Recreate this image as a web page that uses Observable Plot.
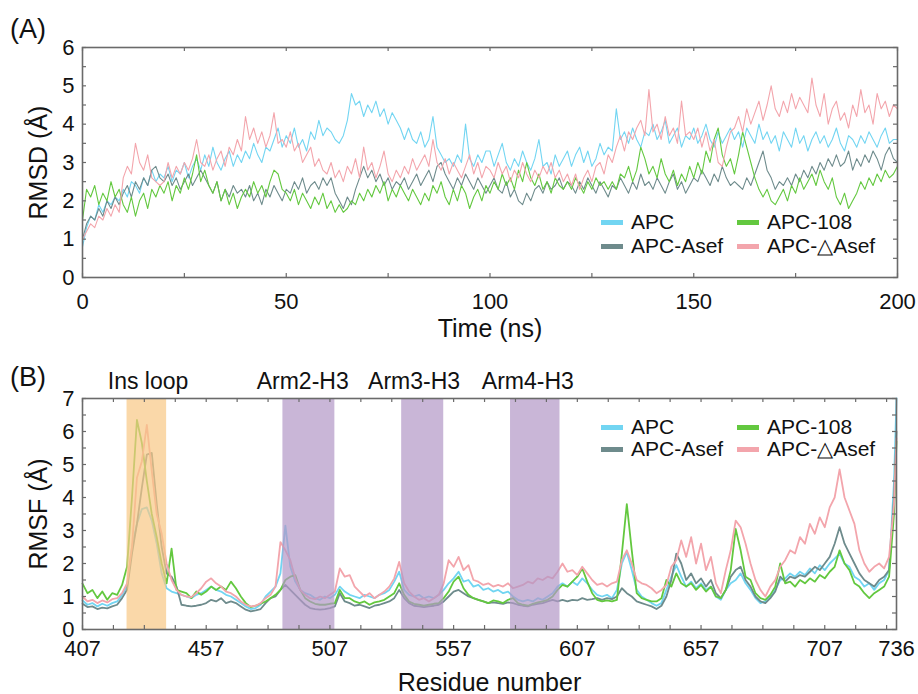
<!DOCTYPE html>
<html><head><meta charset="utf-8">
<script src="https://cdn.jsdelivr.net/npm/d3@7"></script>
<script src="https://cdn.jsdelivr.net/npm/@observablehq/plot@0.6"></script>
<style>
body{margin:0;background:#fff;font-family:"Liberation Sans",Arial,sans-serif;}
#wrap{position:relative;width:918px;height:694px;overflow:hidden;background:#fff;}
.panel{position:absolute;left:0;}
.plabel{position:absolute;left:10px;font-size:27px;line-height:27px;color:#111;}
.leg{position:absolute;font-size:21px;line-height:22px;height:22px;display:flex;align-items:center;white-space:nowrap;color:#111;}
.sw{display:inline-block;width:22px;height:5px;margin-right:8px;}
</style></head><body><div id="wrap"></div>
<script>
// ---------- series ----------
const seriesNames = ["APC", "APC-Asef", "APC-108", "APC-△Asef"];
const seriesColors = ["#72d5f2", "#6e8b8c", "#63c83f", "#f3a5ac"];

// ---------- (A) RMSD, one value per ns, 0..200 ns ----------
const rmsdTime = d3.range(0, 201);
const rmsdAPC = [
0.8,1.3,1.6,1.5,1.9,1.7,2.0,1.9,2.1,2.0,
2.3,2.1,2.5,2.4,2.2,2.6,2.4,2.8,2.5,2.7,
2.6,2.9,2.5,2.8,2.7,3.0,2.6,2.9,3.1,2.8,
3.2,2.9,3.4,3.0,2.8,3.1,3.3,2.9,3.2,3.0,
3.3,3.1,3.5,3.2,3.0,3.4,3.3,3.6,3.9,3.4,
3.7,3.5,3.9,3.4,3.6,3.3,3.8,3.6,4.1,3.7,
3.9,3.8,3.6,3.5,3.7,4.1,4.8,4.5,4.6,4.2,
4.5,4.3,4.6,4.2,4.4,4.0,4.3,4.1,3.9,3.6,
3.9,3.6,3.5,3.8,3.4,3.6,4.2,3.4,3.2,3.0,
3.1,2.9,3.2,3.0,4.0,3.1,2.9,3.2,3.0,3.3,
3.3,2.9,3.2,3.5,3.0,2.8,3.1,2.9,3.3,3.0,
2.8,3.1,3.6,2.9,3.0,2.7,3.2,2.9,3.1,3.3,
2.9,3.2,3.4,3.0,3.3,2.9,3.1,3.5,3.2,3.4,
3.3,4.4,3.6,3.8,3.5,3.9,3.6,3.4,3.8,3.7,
4.0,3.6,3.8,4.1,3.5,3.7,3.9,3.4,3.7,3.6,
3.9,3.5,3.7,4.0,3.6,3.4,3.8,3.5,3.7,3.9,
3.6,3.8,3.4,3.9,3.7,3.5,4.0,3.6,3.8,3.5,
3.7,3.3,3.8,3.6,3.4,3.9,3.5,3.7,3.3,3.6,
3.8,3.5,3.7,3.4,3.6,3.9,3.5,3.3,3.7,3.6,
3.4,3.7,3.5,3.8,3.6,3.4,3.7,3.9,3.5,3.6,
3.6];
const rmsdAsef = [
1.0,1.4,1.6,1.5,1.8,1.6,2.0,1.8,2.1,1.9,
2.2,2.4,2.1,2.5,2.3,2.6,2.4,2.8,2.9,2.6,
2.5,2.7,2.4,2.6,2.3,2.5,2.7,2.4,2.6,2.8,
2.6,2.4,2.2,2.5,2.0,2.3,2.1,2.4,2.2,2.3,
2.1,2.4,2.0,2.2,1.9,2.3,2.1,2.4,2.2,2.0,
2.3,2.2,2.5,2.3,2.6,2.2,2.4,2.5,2.3,2.6,
2.4,2.6,2.2,2.0,1.8,2.1,1.9,2.3,2.6,2.9,
2.6,2.8,2.5,2.7,2.4,2.6,2.3,2.5,2.4,2.6,
2.3,2.5,2.7,2.4,2.6,2.8,2.5,2.9,3.0,2.7,
2.5,2.3,2.6,2.4,2.7,2.5,2.3,2.6,2.4,2.2,
2.4,2.6,2.3,2.2,2.5,2.1,2.3,2.0,1.9,2.2,
2.0,2.3,2.4,2.2,2.5,2.3,2.4,2.6,2.3,2.5,
2.4,2.2,2.5,2.3,2.6,2.4,2.2,2.5,2.3,2.1,
2.4,2.3,2.6,2.4,2.2,2.5,2.3,2.7,2.4,2.5,
2.3,2.6,2.4,2.2,2.5,2.7,2.3,2.5,2.2,2.4,
2.6,2.5,2.8,2.6,2.4,2.7,2.5,2.9,2.6,2.4,
2.5,2.4,2.3,2.6,2.4,2.7,3.0,3.3,2.8,2.6,
2.3,2.5,2.4,2.6,2.4,2.7,2.5,2.8,2.6,2.9,
2.7,3.0,2.8,3.1,2.9,3.2,2.9,3.0,3.3,2.8,
3.1,2.9,3.2,3.0,3.3,3.1,2.8,3.2,3.4,3.1,
3.0];
const rmsd108 = [
1.5,2.3,2.1,2.4,1.9,2.2,2.0,2.5,2.1,2.3,
1.9,1.7,2.1,1.6,2.0,2.2,1.8,2.3,2.1,2.4,
2.2,2.5,2.0,2.4,2.2,2.6,2.3,2.7,3.2,2.5,
2.8,2.4,2.2,2.5,2.0,2.3,1.9,2.2,1.8,2.1,
2.3,2.1,2.5,2.2,2.4,2.1,2.5,2.8,2.7,2.3,
2.2,2.0,2.3,1.9,2.2,2.0,1.8,2.1,1.9,2.2,
1.8,2.0,1.7,1.9,1.7,1.8,2.0,1.9,2.2,2.0,
2.3,2.1,2.4,2.2,2.5,2.0,2.3,2.1,2.4,2.2,
2.0,2.3,2.1,1.9,2.2,2.0,2.4,2.2,2.5,2.1,
1.9,2.3,2.0,2.4,2.2,1.8,2.1,2.3,2.0,2.4,
2.2,2.5,2.3,2.7,2.4,2.6,2.3,2.8,2.5,3.0,
2.6,2.4,2.7,2.3,2.5,2.2,2.6,2.4,2.3,2.5,
2.3,2.6,2.4,2.2,2.5,2.3,2.6,2.4,2.5,2.3,
2.5,2.3,2.7,2.6,2.9,2.5,2.8,3.4,3.1,2.7,
2.9,2.6,3.1,2.7,2.5,2.8,2.4,2.7,2.5,2.9,
2.6,3.0,2.7,3.3,3.0,3.6,3.9,3.2,2.9,3.1,
2.7,3.2,3.8,3.4,3.0,2.6,2.3,2.1,2.3,2.0,
1.9,2.1,2.3,2.0,2.4,2.2,2.6,2.3,2.5,2.7,
2.4,2.8,2.5,2.3,2.6,2.1,1.9,2.2,1.8,2.0,
2.2,2.5,2.3,2.6,2.4,2.7,2.5,2.8,2.6,2.7,
2.9];
const rmsdDAsef = [
1.0,1.2,1.4,1.3,1.6,1.5,1.8,1.6,1.9,1.7,
2.6,2.9,2.7,3.5,3.0,2.8,3.2,2.6,2.5,2.4,
2.5,3.0,2.6,2.9,2.7,3.0,2.8,3.1,3.6,3.0,
2.9,3.2,2.8,3.1,3.3,2.9,3.4,3.2,3.6,3.3,
4.2,3.6,3.9,3.5,3.8,3.4,3.7,4.3,3.5,3.6,
3.4,3.8,3.3,3.5,3.0,3.2,3.4,2.9,3.1,2.8,
2.7,3.0,2.6,2.8,2.5,2.9,2.7,3.1,2.6,3.4,
2.8,3.0,2.6,2.9,3.3,2.7,2.5,2.8,2.6,2.9,
2.7,3.1,2.8,3.0,3.2,2.9,3.6,3.0,2.8,3.1,
2.7,3.0,2.8,2.6,2.9,3.2,2.7,3.0,2.6,2.9,
2.8,2.6,3.0,2.7,2.9,2.5,2.8,2.6,3.0,2.7,
2.5,2.8,2.6,2.9,2.7,3.0,2.6,2.8,2.5,2.7,
2.4,2.7,2.3,2.6,2.8,2.5,2.9,3.0,2.7,3.2,
3.0,3.4,3.7,3.3,3.8,3.6,3.9,4.1,3.7,4.9,
3.8,4.0,3.6,4.2,3.7,3.9,3.5,4.6,3.7,3.8,
3.6,3.9,3.4,3.8,3.3,3.6,3.0,2.9,3.4,3.8,
3.9,4.2,3.8,4.4,4.0,4.3,4.6,4.1,4.5,5.0,
4.4,4.2,4.6,4.3,4.8,4.4,4.7,4.5,4.3,5.2,
4.5,4.2,4.8,4.0,4.4,4.6,4.1,4.3,3.9,4.5,
4.2,4.9,4.3,4.5,4.0,4.8,4.4,4.6,4.2,4.5,
4.4];
const rmsdXLabels = [0, 50, 100, 150, 200];
const rmsdXTicks = [0, 25, 50, 75, 100, 125, 150, 175, 200];
const rmsdYLabels = [0, 1, 2, 3, 4, 5, 6];
const rmsdYTicks = [0, 0.5, 1, 1.5, 2, 2.5, 3, 3.5, 4, 4.5, 5, 5.5, 6];
const rmsdXTitle = "Time (ns)";
const rmsdYTitle = "RMSD (Å)";

// ---------- (B) RMSF, every second residue 407..735, plus 736 ----------
const rmsfResidue = d3.range(407, 736, 2).concat([736]);
const rmsfAPC = [
0.88,0.75,0.80,0.70,0.78,0.72,0.80,0.85,1.05,1.30,
2.50,3.20,3.65,3.70,3.30,2.60,1.70,1.25,1.15,1.10,
1.05,1.00,0.95,1.05,1.10,1.20,1.30,1.20,1.15,1.05,
1.00,0.90,0.80,0.70,0.62,0.65,0.75,1.00,1.15,1.30,
1.70,3.15,1.90,1.45,1.20,1.10,1.05,0.95,0.90,1.00,
0.95,1.05,1.30,1.15,1.05,1.00,0.95,1.05,1.00,0.95,
1.05,1.10,1.20,1.45,1.75,1.20,1.05,1.00,1.05,0.95,
1.00,0.95,1.05,1.20,1.40,1.55,1.75,1.45,1.50,1.30,
1.35,1.20,1.25,1.15,1.20,1.10,1.15,1.00,0.90,0.85,
0.90,0.85,0.95,0.90,1.00,1.10,1.30,1.40,1.30,1.45,
1.35,1.55,1.40,1.20,1.05,1.00,1.05,0.95,1.20,2.00,
2.35,1.80,1.20,1.00,0.90,0.80,0.72,0.80,1.20,1.60,
1.95,1.60,1.30,1.45,1.25,1.40,1.20,1.30,1.00,0.90,
1.20,1.40,1.50,1.70,1.40,1.20,0.95,0.80,0.85,1.00,
1.20,1.50,1.55,1.70,1.60,1.75,1.65,1.85,1.70,1.95,
1.80,2.00,2.15,2.30,2.00,1.90,1.60,1.50,1.30,1.40,
1.20,1.40,1.50,1.80,4.50,
7.00];
const rmsfAsef = [
0.78,0.68,0.70,0.62,0.66,0.64,0.70,0.75,0.95,1.20,
2.30,3.20,4.30,5.30,5.35,3.80,2.50,1.70,1.60,1.30,
0.75,0.72,0.70,0.72,0.75,0.80,0.90,0.85,0.95,0.80,
0.85,0.80,0.70,0.60,0.55,0.58,0.62,0.80,0.95,1.00,
1.20,1.35,1.20,1.05,0.90,0.75,0.65,0.62,0.60,0.62,
0.65,0.70,1.10,0.85,0.80,0.72,0.75,0.70,0.65,0.72,
0.75,0.80,0.85,0.95,1.20,0.95,0.80,0.72,0.70,0.68,
0.70,0.72,0.75,0.85,1.00,1.15,1.20,1.10,1.00,0.95,
0.90,0.85,0.80,0.82,0.80,0.78,0.82,0.80,0.75,0.72,
0.70,0.75,0.78,0.80,0.85,0.90,0.85,0.90,0.85,0.90,
0.88,0.95,0.90,0.92,0.95,0.90,0.95,0.92,1.00,1.25,
1.10,1.00,0.85,0.80,0.75,0.70,0.62,0.72,1.00,1.50,
2.30,2.00,1.50,1.70,1.40,1.55,1.30,1.50,1.10,0.95,
1.20,1.60,1.80,1.90,1.50,1.30,1.00,0.85,0.80,0.95,
1.15,1.60,1.45,1.60,1.55,1.65,1.60,1.75,1.90,1.80,
2.00,2.20,2.60,3.10,2.60,2.30,2.00,1.70,1.50,1.40,
1.30,1.50,1.60,1.80,4.00,
6.00];
const rmsf108 = [
1.39,1.10,1.20,0.95,1.15,0.90,1.10,1.05,1.35,1.90,
4.00,6.35,5.65,4.50,3.50,2.80,2.00,1.40,2.45,1.20,
1.15,1.10,0.95,1.15,1.05,1.15,1.30,1.20,1.30,1.20,
1.45,1.25,1.00,0.80,0.68,0.72,0.78,0.85,0.95,1.05,
1.20,1.50,1.60,1.65,1.20,0.95,0.85,0.78,0.75,0.75,
0.78,0.80,1.20,0.95,0.95,0.85,0.80,0.85,0.75,0.82,
0.85,0.90,1.00,1.10,1.40,1.05,0.85,0.78,0.75,0.72,
0.75,0.78,0.80,0.95,1.15,1.45,1.60,1.25,1.05,0.95,
0.90,0.85,0.80,0.88,0.85,0.80,0.90,0.95,0.80,0.75,
0.72,0.78,0.82,0.85,0.90,1.00,1.20,1.35,1.30,1.45,
1.60,1.85,1.45,1.10,0.90,0.85,0.88,0.85,0.90,2.30,
3.80,2.40,1.10,0.95,0.90,0.85,0.85,0.95,1.50,1.30,
1.70,1.40,1.30,1.40,1.20,1.35,1.15,1.30,1.00,0.95,
1.20,1.80,3.05,2.40,1.60,1.50,1.10,0.95,0.90,1.05,
1.30,2.00,1.40,1.45,1.30,1.50,1.40,1.55,1.45,1.65,
1.55,1.75,1.90,2.40,2.00,1.80,1.40,1.30,1.10,0.95,
1.10,1.20,1.30,1.60,3.50,
5.70];
const rmsfDAsef = [
1.00,0.85,0.90,0.80,0.88,0.82,0.92,0.95,1.10,1.40,
2.50,4.60,5.10,6.20,4.80,3.50,2.90,2.00,1.50,1.20,
1.05,1.00,0.98,1.10,1.25,1.45,1.55,1.40,1.30,1.15,
1.10,1.00,0.85,0.75,0.70,0.72,0.80,0.95,1.05,1.30,
2.65,2.40,2.10,1.55,1.20,1.05,0.95,0.92,1.00,0.95,
1.05,1.15,1.85,1.60,1.65,1.30,1.15,1.00,1.10,0.95,
1.05,1.15,1.30,1.55,2.05,1.40,1.15,1.00,0.90,0.95,
0.85,0.95,1.05,1.40,2.10,1.90,2.20,1.80,1.95,1.50,
1.45,1.35,1.40,1.30,1.35,1.30,1.40,1.25,1.30,1.35,
1.45,1.40,1.55,1.50,1.60,1.55,1.75,2.00,1.75,1.80,
1.65,1.90,1.70,1.50,1.35,1.40,1.30,1.40,1.45,2.10,
2.40,2.00,1.50,1.40,1.35,1.25,1.10,1.20,1.35,1.90,
2.10,2.70,2.20,2.80,2.00,2.60,1.80,2.20,1.40,1.10,
1.80,2.40,3.30,3.10,2.60,2.00,1.50,1.20,1.00,1.30,
1.50,1.90,2.10,2.40,2.30,2.80,2.60,3.20,2.90,3.40,
3.10,3.70,4.00,4.85,4.00,3.60,3.20,2.40,2.00,1.75,
1.90,2.00,1.85,2.20,3.80,
5.80];
const rmsfXLabels = [407, 457, 507, 557, 607, 657, 707, 736];
const rmsfXTicks = [407,419.5,432,444.5,457,469.5,482,494.5,507,519.5,532,544.5,557,569.5,582,594.5,607,619.5,632,644.5,657,669.5,682,694.5,707,719.5,732];
const rmsfYLabels = [0, 1, 2, 3, 4, 5, 6, 7];
const rmsfYTicks = [0,0.5,1,1.5,2,2.5,3,3.5,4,4.5,5,5.5,6,6.5,7];
const rmsfXTitle = "Residue number";
const rmsfYTitle = "RMSF (Å)";

// highlighted regions
const regionNames = ["Ins loop", "Arm2-H3", "Arm3-H3", "Arm4-H3"];
const regionStart = [425, 488, 536, 580];
const regionEnd = [441, 509, 553, 600];
const regionLabelX = [433.5, 496, 541, 587];
const regionFill = ["#f8c884", "#b297c6", "#b297c6", "#b297c6"];

// ---------- drawing ----------
const FONT = '"Liberation Sans", Arial, Helvetica, sans-serif';
const FRAME = "#6a6a6a";
const wrap = document.getElementById("wrap");
const rmsd = [rmsdAPC, rmsdAsef, rmsd108, rmsdDAsef];
const rmsf = [rmsfAPC, rmsfAsef, rmsf108, rmsfDAsef];
const rows = (xs, ys) => xs.map((x, i) => ({x, y: ys[i]}));

function inwardTicks(xt, yt, innerW, innerH, len) {
  return [
    Plot.tickX(xt, {x: d => d, insetTop: innerH - len, stroke: FRAME, strokeWidth: 1.2}),
    Plot.tickX(xt, {x: d => d, insetBottom: innerH - len, stroke: FRAME, strokeWidth: 1.2}),
    Plot.tickY(yt, {y: d => d, insetRight: innerW - len, stroke: FRAME, strokeWidth: 1.2}),
    Plot.tickY(yt, {y: d => d, insetLeft: innerW - len, stroke: FRAME, strokeWidth: 1.2})
  ];
}
function titles(xTitle, yTitle, xdy, ydx) {
  return [
    Plot.text([xTitle], {text: d => d, frameAnchor: "bottom", lineAnchor: "middle", textAnchor: "middle", dy: xdy, fontSize: 25, fill: "#111"}),
    Plot.text([yTitle], {text: d => d, frameAnchor: "left", lineAnchor: "middle", textAnchor: "middle", rotate: -90, dx: ydx, fontSize: 25, fill: "#111"})
  ];
}

// Panel A
{
  const W = 918, H = 350, mL = 82, mR = 21, mT = 47, mB = 73;
  const svg = Plot.plot({
    width: W, height: H, marginLeft: mL, marginRight: mR, marginTop: mT, marginBottom: mB,
    x: {domain: [0, 200]}, y: {domain: [0, 6]},
    style: {fontFamily: FONT, fontSize: "22px", color: "#111", background: "transparent", overflow: "visible"},
    marks: [
      ...rmsd.map((s, i) => Plot.line(rows(rmsdTime, s), {x: "x", y: "y", stroke: seriesColors[i], strokeWidth: 1.1})),
      Plot.axisX({ticks: rmsdXLabels, tickSize: 0, tickPadding: 16, tickFormat: d => String(d), label: null, fontSize: 22}),
      Plot.axisY({ticks: rmsdYLabels, tickSize: 0, tickPadding: 8, tickFormat: d => String(d), label: null, fontSize: 22}),
      ...titles(rmsdXTitle, rmsdYTitle, 51, -44),
      ...inwardTicks(rmsdXTicks, rmsdYTicks, W - mL - mR, H - mT - mB, 4),
      Plot.frame({stroke: FRAME, strokeWidth: 1.6})
    ]
  });
  svg.classList.add("panel"); svg.style.top = "0px";
  wrap.appendChild(svg);
}

// Panel B
{
  const W = 918, H = 344, mL = 82, mR = 22, mT = 48, mB = 65;
  const regions = regionNames.map((n, i) => ({n, x1: regionStart[i], x2: regionEnd[i], f: regionFill[i], lx: regionLabelX[i]}));
  const svg = Plot.plot({
    width: W, height: H, marginLeft: mL, marginRight: mR, marginTop: mT, marginBottom: mB,
    x: {domain: [407, 736]}, y: {domain: [0, 7]},
    style: {fontFamily: FONT, fontSize: "22px", color: "#111", background: "transparent", overflow: "visible"},
    marks: [
      ...rmsf.map((s, i) => Plot.line(rows(rmsfResidue, s), {x: "x", y: "y", stroke: seriesColors[i], strokeWidth: 1.8})),
      Plot.rect(regions, {x1: "x1", x2: "x2", fill: "f", fillOpacity: 0.7}),
      Plot.text(regions, {x: "lx", text: "n", frameAnchor: "top", lineAnchor: "middle", dy: -17, fontSize: 23, fill: "#111"}),
      Plot.axisX({ticks: rmsfXLabels, tickSize: 0, tickPadding: 11, tickFormat: d => String(d), label: null, fontSize: 22}),
      Plot.axisY({ticks: rmsfYLabels, tickSize: 0, tickPadding: 8, tickFormat: d => String(d), label: null, fontSize: 22}),
      ...titles(rmsfXTitle, rmsfYTitle, 53, -44),
      ...inwardTicks(rmsfXTicks, rmsfYTicks, W - mL - mR, H - mT - mB, 4),
      Plot.frame({stroke: FRAME, strokeWidth: 1.6})
    ]
  });
  svg.classList.add("panel"); svg.style.top = "350px";
  wrap.appendChild(svg);
}

// Panel letters
[["(A)", 16], ["(B)", 364]].forEach(([t, top]) => {
  const d = document.createElement("div");
  d.className = "plabel"; d.textContent = t; d.style.top = top + "px";
  wrap.appendChild(d);
});

// Legends (two columns, two rows) for both panels
const legendCols = [601, 737];
const legendSlots = [[0, 0], [1, 0], [0, 1], [1, 1]]; // APC, APC-108, APC-Asef, APC-△Asef
const legendOrder = [0, 2, 1, 3];
[[222, 246], [427, 449]].forEach(rowsY => {
  legendOrder.forEach((si, k) => {
    const [c, r] = legendSlots[k];
    const d = document.createElement("div");
    d.className = "leg";
    d.style.left = legendCols[c] + "px";
    d.style.top = (rowsY[r] - 11) + "px";
    const sw = document.createElement("span");
    sw.className = "sw"; sw.style.background = seriesColors[si];
    d.appendChild(sw);
    d.appendChild(document.createTextNode(seriesNames[si]));
    wrap.appendChild(d);
  });
});
</script></body></html>
